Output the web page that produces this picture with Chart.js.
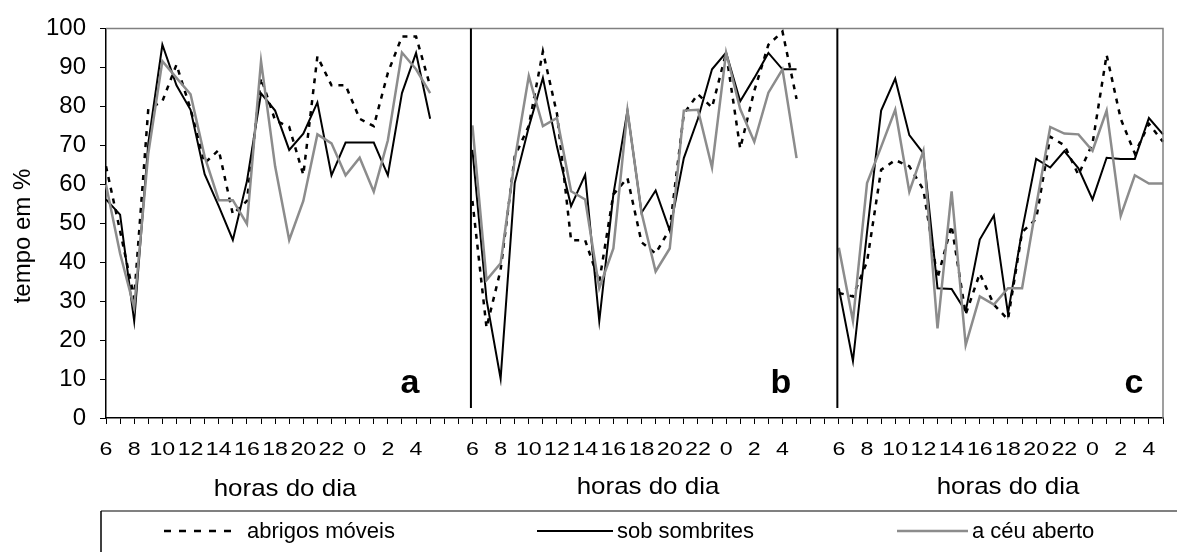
<!DOCTYPE html>
<html>
<head>
<meta charset="utf-8">
<script src="https://cdn.jsdelivr.net/npm/chart.js@4.4.0/dist/chart.umd.min.js"></script>
<style>
  html, body { margin: 0; padding: 0; background: #fff; }
  #wrap { width: 1177px; height: 552px; }
</style>
</head>
<body>
<div id="wrap"><canvas id="chartCanvas" width="1177" height="552"></canvas></div>
<script>
// hours of the day, 6h to 5h next morning
const hours = [6, 7, 8, 9, 10, 11, 12, 13, 14, 15, 16, 17, 18, 19, 20, 21, 22, 23, 0, 1, 2, 3, 4, 5];
const panelLetters = ['a', 'b', 'c'];
const seriesNames = ['abrigos móveis', 'sob sombrites', 'a céu aberto'];
const xTitle = 'horas do dia';
const yTitle = 'tempo em %';

// panel a
const abrigosA   = [64.6, 48, 30.8, 79.3, 81.3, 90.7, 79.3, 65.4, 68.8, 52.3, 55.7, 87.3, 76.4, 74.7, 62.4, 92.8, 85.4, 85.4, 76.8, 74.9, 88.6, 97.9, 97.9, 85.2];
const sombritesA = [56.1, 52.2, 24.9, 70.5, 95.8, 85.4, 79.1, 62.6, 54.4, 45.7, 60.8, 83.3, 78.9, 68.8, 73.0, 81.0, 62.3, 70.7, 70.7, 70.7, 62.3, 83.4, 93.7, 76.8];
const ceuA       = [59.9, 42.2, 28.3, 67.9, 91.6, 87.3, 83.1, 67.1, 55.9, 55.9, 49.8, 91.6, 64.6, 45.7, 55.7, 72.8, 70.5, 62.3, 66.8, 58.1, 71.3, 93.8, 89.5, 83.4];
// panel b
const abrigosB   = [55.7, 23.2, 38, 67.1, 75, 94.1, 78.1, 45.6, 45.6, 35.0, 57.4, 61.6, 45.1, 42.2, 48.5, 78.1, 83.1, 79.7, 93.7, 69.2, 84.0, 95.8, 99.2, 81.9];
const sombritesB = [68.8, 30.4, 10.1, 60.3, 74.7, 87.3, 69.6, 54.4, 62.4, 24.9, 57.4, 78.9, 52.7, 58.4, 48.1, 66.7, 76.8, 89.5, 93.8, 81.3, 87.3, 93.7, 89.5, 89.5];
const ceuB       = [75.1, 35.4, 39.7, 66.2, 87.8, 74.9, 77.0, 58.2, 56.1, 33.3, 43.5, 78.9, 52.7, 37.6, 43.5, 78.9, 79.1, 64.3, 93.8, 79.3, 70.9, 83.5, 89.5, 66.7];
// panel c
const abrigosC   = [32.1, 31.2, 40.1, 63.7, 66.2, 64.6, 58.6, 35.9, 49.4, 26.6, 37.1, 29.1, 25.3, 47.7, 51.1, 72.2, 70.0, 62.4, 70.5, 93.2, 76.8, 67.9, 75.5, 70.9];
const sombritesC = [33.3, 14.6, 47.7, 78.9, 87.1, 72.6, 67.9, 33.3, 33.1, 27.4, 45.8, 52.0, 26.8, 48.1, 66.5, 64.3, 68.5, 64.1, 56.1, 66.8, 66.5, 66.5, 77.0, 72.8];
const ceuC       = [43.7, 24.9, 60.3, 69.6, 79.1, 58.1, 68.6, 23.0, 58.2, 18.7, 31.2, 29.1, 33.3, 33.3, 54.4, 74.7, 73.0, 72.8, 68.6, 78.9, 51.9, 62.3, 60.2, 60.2];

const yTicks = [0, 10, 20, 30, 40, 50, 60, 70, 80, 90, 100];

// two empty categories after panels a and b, as in the original sheet
const gap = ['', ''];
const categories = [...hours.map(String), ...gap, ...hours.map(String), ...gap, ...hours.map(String)];
const panelStarts = [0, hours.length + gap.length, 2 * (hours.length + gap.length)];

function joinPanels(a, b, c) {
    return [...a, null, null, ...b, null, null, ...c];
}

const FONT = "'Liberation Sans', Arial, sans-serif";
Chart.defaults.font.family = FONT;
Chart.defaults.color = '#000';

// text a bit wider than the font, like the original export
function wideText(c, text, x, y, sx) {
    c.save();
    c.translate(x, y);
    c.scale(sx, 1);
    c.fillText(text, 0, 0);
    c.restore();
}

const decorations = {
    id: 'decorations',
    afterDraw(chart) {
        const c = chart.ctx;
        const area = chart.chartArea;
        const x = chart.scales.x;
        c.save();

        // plot frame (top and right)
        c.strokeStyle = '#808080';
        c.lineWidth = 1.5;
        c.beginPath();
        c.moveTo(area.left, area.top);
        c.lineTo(area.right, area.top);
        c.lineTo(area.right, area.bottom);
        c.stroke();

        // separators between panels
        c.strokeStyle = '#000';
        c.lineWidth = 2;
        panelStarts.slice(1).forEach(i => {
            const px = x.getPixelForValue(i) - 1.5;
            c.beginPath();
            c.moveTo(px, area.top);
            c.lineTo(px, area.bottom - 10);
            c.stroke();
        });

        // x tick labels
        c.fillStyle = '#000';
        c.font = '19px ' + FONT;
        c.textAlign = 'center';
        c.textBaseline = 'alphabetic';
        x.ticks.forEach((t, i) => {
            if (t.label) wideText(c, t.label, x.getPixelForTick(i), 455, 1.22);
        });

        // panel letters
        c.font = 'bold 34px ' + FONT;
        [410, 781, 1134].forEach((px, i) => c.fillText(panelLetters[i], px, 393));

        // x titles
        c.font = '24px ' + FONT;
        [[285, 496], [648, 494], [1008, 494]].forEach(p => wideText(c, xTitle, p[0], p[1], 1.08));

        // y title
        c.save();
        c.translate(30, 236);
        c.rotate(-Math.PI / 2);
        c.fillText(yTitle, 0, 0);
        c.restore();

        // legend box
        c.strokeStyle = '#808080';
        c.lineWidth = 2;
        c.beginPath();
        c.moveTo(1180, 511);
        c.lineTo(101, 511);
        c.stroke();
        c.strokeStyle = '#000';
        c.lineWidth = 1.5;
        c.beginPath();
        c.moveTo(101, 511);
        c.lineTo(101, 560);
        c.stroke();

        const items = [[164, 238, 247], [537, 613, 617], [897, 968, 972]];
        c.font = '22px ' + FONT;
        c.textAlign = 'left';
        c.textBaseline = 'middle';
        chart.data.datasets.forEach((ds, i) => {
            const it = items[i];
            c.strokeStyle = ds.borderColor;
            c.lineWidth = ds.borderWidth;
            c.setLineDash(i === 0 ? [7, 8] : []);
            c.beginPath();
            c.moveTo(it[0], 531);
            c.lineTo(it[1], 531);
            c.stroke();
            c.setLineDash([]);
            c.fillText(ds.label, it[2], 532);
        });
        c.restore();
    }
};

const ctx = document.getElementById('chartCanvas').getContext('2d');
new Chart(ctx, {
    type: 'line',
    data: {
        labels: categories,
        datasets: [
            { label: seriesNames[0], data: joinPanels(abrigosA, abrigosB, abrigosC), borderColor: '#000', borderWidth: 2.5, borderDash: [5, 6], order: 3 },
            { label: seriesNames[1], data: joinPanels(sombritesA, sombritesB, sombritesC), borderColor: '#000', borderWidth: 2, order: 2 },
            { label: seriesNames[2], data: joinPanels(ceuA, ceuB, ceuC), borderColor: '#8c8c8c', borderWidth: 2.5, order: 1 }
        ]
    },
    options: {
        responsive: false,
        animation: false,
        spanGaps: false,
        elements: { point: { radius: 0 }, line: { tension: 0, borderCapStyle: 'butt' } },
        layout: { padding: { left: 0, top: 23, right: 14, bottom: 0 } },
        plugins: { legend: { display: false }, tooltip: { enabled: false } },
        scales: {
            x: {
                type: 'category',
                offset: false,
                afterFit(s) { s.height = 134; },
                grid: { drawOnChartArea: false, drawTicks: true, tickLength: 6, color: '#000' },
                border: { color: '#000', width: 1.5 },
                ticks: {
                    autoSkip: false,
                    maxRotation: 0,
                    padding: 12,
                    font: { size: 19 },
                    color: 'rgba(0,0,0,0)',
                    callback(v) {
                        const l = this.getLabelForValue(v);
                        return l !== '' && Number(l) % 2 === 0 ? l : '';
                    }
                }
            },
            y: {
                min: 0,
                max: 100,
                afterFit(s) { s.width = 106; },
                afterBuildTicks(s) { s.ticks = yTicks.map(v => ({ value: v })); },
                grid: { drawOnChartArea: false, drawTicks: true, tickLength: 6, color: '#000' },
                border: { color: '#000', width: 1.5 },
                ticks: { padding: 14, font: { size: 24 } }
            }
        }
    },
    plugins: [decorations]
});
</script>
</body>
</html>
